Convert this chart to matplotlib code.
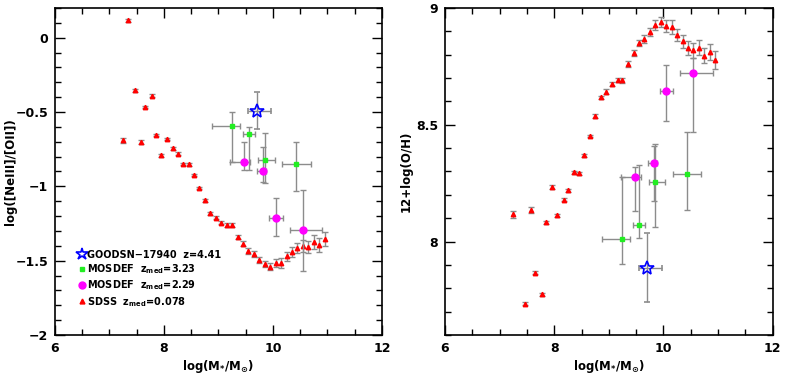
import numpy as np
import matplotlib
matplotlib.use("Agg")
import matplotlib.pyplot as plt
from matplotlib.ticker import MultipleLocator, FuncFormatter

plt.rcParams['font.family'] = ['DejaVu Sans']
plt.rcParams['font.weight'] = 'bold'
plt.rcParams['mathtext.default'] = 'regular'

# SDSS stacks, left panel: log([NeIII]/[OII]) vs mass
sdss_m_ne = [7.25, 7.34, 7.46, 7.57, 7.65, 7.78, 7.85, 7.95, 8.05, 8.17, 8.25, 8.35, 8.46,
             8.56, 8.65, 8.76, 8.85, 8.96, 9.05, 9.15, 9.25, 9.35, 9.45, 9.55, 9.65, 9.75,
             9.85, 9.95, 10.05, 10.15, 10.25, 10.35, 10.45, 10.55, 10.65, 10.75, 10.85, 10.95]
sdss_ne = [-0.69, 0.117, -0.355, -0.70, -0.465, -0.39, -0.655, -0.79, -0.68, -0.745, -0.78,
           -0.85, -0.85, -0.925, -1.01, -1.095, -1.18, -1.21, -1.245, -1.26, -1.26, -1.34,
           -1.385, -1.435, -1.455, -1.495, -1.525, -1.54, -1.515, -1.515, -1.47, -1.44,
           -1.415, -1.40, -1.41, -1.375, -1.395, -1.355]
sdss_ne_err = [0.018, 0.008, 0.008, 0.012, 0.008, 0.01, 0.008, 0.01, 0.008, 0.008, 0.008,
               0.008, 0.01, 0.008, 0.008, 0.008, 0.01, 0.01, 0.01, 0.012, 0.012, 0.015,
               0.015, 0.018, 0.018, 0.02, 0.02, 0.025, 0.028, 0.035, 0.03, 0.035, 0.035,
               0.04, 0.04, 0.045, 0.045, 0.045]

# SDSS stacks, right panel: 12+log(O/H) vs mass
sdss_m_oh = [7.25, 7.465, 7.575, 7.65, 7.78, 7.855, 7.96, 8.06, 8.17, 8.26, 8.36, 8.46,
             8.55, 8.66, 8.75, 8.85, 8.955, 9.05, 9.16, 9.25, 9.35, 9.455, 9.55, 9.65,
             9.75, 9.85, 9.96, 10.05, 10.15, 10.25, 10.35, 10.45, 10.55, 10.65, 10.75,
             10.85, 10.95]
sdss_oh = [8.117, 7.734, 8.136, 7.866, 7.775, 8.083, 8.233, 8.112, 8.179, 8.219, 8.296,
           8.292, 8.369, 8.452, 8.536, 8.617, 8.642, 8.674, 8.691, 8.690, 8.761, 8.807,
           8.850, 8.868, 8.898, 8.927, 8.940, 8.924, 8.920, 8.883, 8.858, 8.830, 8.820,
           8.830, 8.795, 8.811, 8.777]
sdss_oh_err = [0.014, 0.006, 0.012, 0.006, 0.006, 0.006, 0.01, 0.006, 0.006, 0.008, 0.006,
               0.006, 0.006, 0.006, 0.008, 0.008, 0.01, 0.01, 0.01, 0.01, 0.012, 0.012,
               0.014, 0.016, 0.018, 0.02, 0.021, 0.025, 0.03, 0.025, 0.028, 0.03, 0.032,
               0.032, 0.032, 0.035, 0.039]

# MOSDEF z~3.23 (green)
m3_mass = [9.25, 9.56, 9.85, 10.43]
m3_mass_lo = [0.37, 0.11, 0.12, 0.26]
m3_mass_hi = [0.14, 0.105, 0.18, 0.26]
m3_ne = [-0.593, -0.647, -0.821, -0.85]
m3_ne_lo = [0.241, 0.241, 0.157, 0.18]
m3_ne_hi = [0.094, 0.049, 0.181, 0.146]
m3_oh = [8.013, 8.073, 8.257, 8.289]
m3_oh_lo = [0.11, 0.058, 0.193, 0.156]
m3_oh_hi = [0.264, 0.253, 0.161, 0.179]

# MOSDEF z~2.29 (magenta)
m2_mass = [9.475, 9.82, 10.055, 10.55]
m2_mass_lo = [0.255, 0.11, 0.125, 0.24]
m2_mass_hi = [0.11, 0.06, 0.125, 0.35]
m2_ne = [-0.839, -0.895, -1.214, -1.297]
m2_ne_lo = [0.049, 0.079, 0.119, 0.275]
m2_ne_hi = [0.139, 0.16, 0.135, 0.274]
m2_oh = [8.277, 8.335, 8.645, 8.722]
m2_oh_lo = [0.147, 0.163, 0.13, 0.254]
m2_oh_hi = [0.041, 0.074, 0.112, 0.063]

# GOODSN-17940
star_mass = 9.70
star_mass_lo = 0.15
star_mass_hi = 0.27
star_ne = -0.49
star_ne_err = 0.125
star_oh = 7.888
star_oh_err = 0.147

ebar = dict(ecolor='#8c8c8c', elinewidth=1.0, capsize=2.5, capthick=1.0, linestyle='none')

fig = plt.figure(figsize=(7.89, 3.75), dpi=100)
ax1 = fig.add_axes([0.0697, 0.1067, 0.4143, 0.872])
ax2 = fig.add_axes([0.564, 0.1067, 0.4153, 0.872])

fmt = FuncFormatter(lambda v, p: ('%g' % v).replace('-', '\u2212'))


def panel(ax, sm, sy, se, g_y, g_lo, g_hi, p_y, p_lo, p_hi, s_y, s_e):
    ax.errorbar(sm, sy, yerr=se, marker='^', ms=3.2, mfc='red', mec='red', **ebar)
    ax.errorbar(m3_mass, g_y, xerr=[m3_mass_lo, m3_mass_hi], yerr=[g_lo, g_hi],
                marker='s', ms=3.5, mfc='#22ee22', mec='#22ee22', zorder=3, **ebar)
    ax.errorbar(m2_mass, p_y, xerr=[m2_mass_lo, m2_mass_hi], yerr=[p_lo, p_hi],
                marker='o', ms=5, mfc='magenta', mec='magenta', zorder=3, **ebar)
    ax.errorbar([star_mass], [s_y], xerr=[[star_mass_lo], [star_mass_hi]], yerr=s_e,
                marker='*', ms=10, mfc='none', mec='blue', mew=1.2, zorder=4, **ebar)
    ax.set_xlim(6, 12)
    ax.xaxis.set_major_locator(MultipleLocator(2))
    ax.xaxis.set_minor_locator(MultipleLocator(0.5))
    ax.yaxis.set_major_locator(MultipleLocator(0.5))
    ax.yaxis.set_minor_locator(MultipleLocator(0.1))
    ax.tick_params(which='both', direction='in', top=True, right=True, labelsize=9)
    ax.tick_params(which='major', length=7, width=1, pad=5)
    ax.tick_params(which='minor', length=4, width=1)
    ax.xaxis.set_major_formatter(fmt)
    ax.yaxis.set_major_formatter(fmt)
    for s in ax.spines.values():
        s.set_linewidth(1.2)
    ax.set_xlabel('log(M$_{*}$/M$_{\\odot}$)', fontsize=8.5, fontweight='bold', labelpad=2)


panel(ax1, sdss_m_ne, sdss_ne, sdss_ne_err, m3_ne, m3_ne_lo, m3_ne_hi,
      m2_ne, m2_ne_lo, m2_ne_hi, star_ne, star_ne_err)
ax1.set_ylim(-2, 0.2)
ax1.set_ylabel('log([NeIII]/[OII])', fontsize=8.5, fontweight='bold')
ax1.yaxis.set_label_coords(-0.115, 0.5)

panel(ax2, sdss_m_oh, sdss_oh, sdss_oh_err, m3_oh, m3_oh_lo, m3_oh_hi,
      m2_oh, m2_oh_lo, m2_oh_hi, star_oh, star_oh_err)
ax2.set_ylim(7.6, 9.0)
ax2.set_ylabel('12+log(O/H)', fontsize=8.5, fontweight='bold')
ax2.yaxis.set_label_coords(-0.1, 0.5)

# legend
h_star = plt.Line2D([], [], marker='*', ms=9, mfc='none', mec='blue', mew=1.2, ls='none')
h_g = plt.Line2D([], [], marker='s', ms=3.5, mfc='#22ee22', mec='#22ee22', ls='none')
h_m = plt.Line2D([], [], marker='o', ms=5, mfc='magenta', mec='magenta', ls='none')
h_s = plt.Line2D([], [], marker='^', ms=3.5, mfc='red', mec='red', ls='none')
ax1.legend([h_star, h_g, h_m, h_s],
           ['GOODSN\u221217940  z=4.41', 'MOSDEF  z$_{med}$=3.23',
            'MOSDEF  z$_{med}$=2.29', 'SDSS  z$_{med}$=0.078'],
           loc='lower left', bbox_to_anchor=(0.05, 0.06), frameon=False,
           fontsize=7, handlelength=0.8, handletextpad=0.15, labelspacing=0.25,
           borderpad=0.2)

fig.savefig('out.png', dpi=100)
